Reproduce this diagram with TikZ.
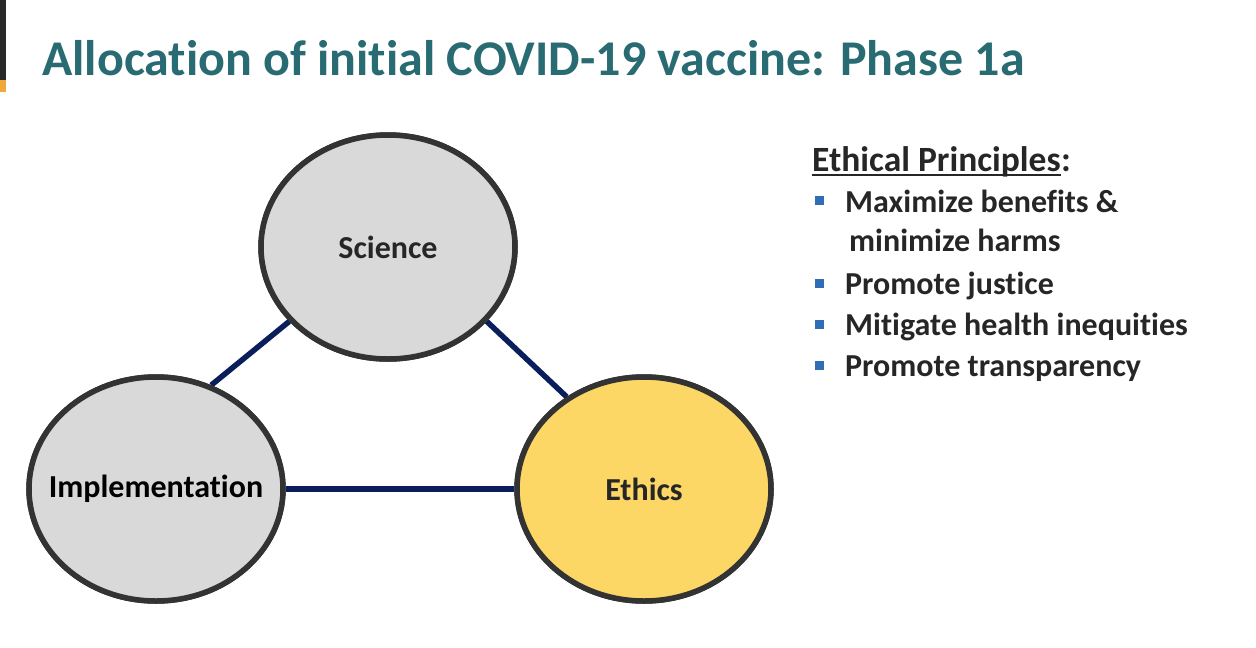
\documentclass[tikz,border=0pt]{standalone}
\usepackage{fontspec}
\setmainfont{Carlito}[RawFeature={-liga;-calt;-clig;-dlig}]
\usetikzlibrary{shapes.geometric}
\newcommand\myti{t\kern0pt i}
\definecolor{titleteal}{RGB}{41,107,114}
\definecolor{bardark}{RGB}{40,40,40}
\definecolor{barorange}{RGB}{242,168,56}
\definecolor{circgray}{RGB}{217,217,217}
\definecolor{circyellow}{RGB}{252,215,102}
\definecolor{circborder}{RGB}{51,51,51}
\definecolor{linknavy}{RGB}{10,30,92}
\definecolor{textdark}{RGB}{38,38,38}
\definecolor{bulletblue}{RGB}{47,109,181}
\tikzset{
  bubble/.style={ellipse, draw=circborder, line width=5.5pt, inner sep=0pt,
    minimum width=254pt, minimum height=224pt},
  bubblelabel/.style={inner sep=0pt, text=textdark, font=\bfseries\fontsize{32}{38}\selectfont},
  link/.style={draw=linknavy, line width=5.5pt},
  listtext/.style={anchor=base west, inner sep=0pt, text=textdark, font=\bfseries\fontsize{32}{38}\selectfont},
  bulletsq/.style={fill=bulletblue, inner sep=0pt, minimum size=9pt},
}
\begin{document}
\begin{tikzpicture}[x=1pt,y=-1pt]
\useasboundingbox (0,0) rectangle (1256,648);
\fill[white] (0,0) rectangle (1256,648);
% left bar
\fill[bardark] (0,0) rectangle (6,80);
\fill[barorange] (0,80) rectangle (6,92);
% title
\node[anchor=base west, inner sep=0pt, text=titleteal, font=\bfseries\fontsize{50}{60}\selectfont] (title) at (42,75) {Alloca\myti on of ini\myti al COVID-19 vaccine: Phase 1a};
% links (drawn first, bubbles on top)
\path (388,247) coordinate (scic) (156,489) coordinate (impc) (644,489) coordinate (ethc);
\node[bubble] (sci) at (scic) {};
\node[bubble] (imp) at (impc) {};
\node[bubble] (eth) at (ethc) {};
\draw[link] (sci.217) -- (imp.62);
\draw[link] (sci.323) -- (eth.130);
\draw[link] (imp.east) -- (eth.west);
% bubbles
\node[bubble, fill=circgray] (scib) at (scic) {};
\node[bubble, fill=circgray] (impb) at (impc) {};
\node[bubble, fill=circyellow] (ethb) at (ethc) {};
\node[bubblelabel] (scil) at (scib.center) {Science};
\node[bubblelabel, text=black] (impl) at (impb.center) {Implementa\myti on};
\node[bubblelabel] (ethl) at (ethb.center) {Ethics};
% principles
\node[listtext, font=\bfseries\fontsize{35.5}{42}\selectfont] (hdr) at (812,171) {Ethical Principles};
\node[listtext, font=\bfseries\fontsize{35.5}{42}\selectfont] (colon) at (hdr.base east) {:};
\draw[textdark, line width=2pt] ([yshift=-4pt]hdr.base west) -- ([yshift=-4pt]hdr.base east);
\node[bulletsq] (b1) at (819.5,200) {};
\node[listtext] (l1) at (845,212) {Maximize benefits \&};
\node[listtext] (l1b) at (849,251) {minimize harms};
\node[bulletsq] (b2) at (819.5,283) {};
\node[listtext] (l2) at (845,294) {Promote jus\myti ce};
\node[bulletsq] (b3) at (819.5,324) {};
\node[listtext] (l3) at (845,335) {Mi\myti gate health inequi\myti es};
\node[bulletsq] (b4) at (819.5,365) {};
\node[listtext] (l4) at (845,376) {Promote transparency};
\end{tikzpicture}
\end{document}
